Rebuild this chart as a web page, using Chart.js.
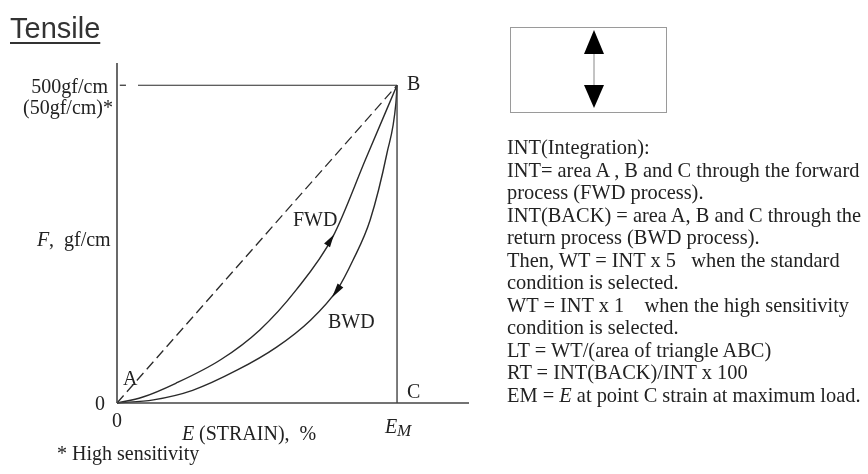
<!DOCTYPE html>
<html>
<head>
<meta charset="utf-8">
<script src="https://cdn.jsdelivr.net/npm/chart.js@4.4.1/dist/chart.umd.min.js"></script>
<style>
  body { margin: 0; background: #fff; width: 868px; height: 474px; overflow: hidden; position: relative; }
  #chart { position: absolute; left: 0; top: 0; }
  #notes {
    position: absolute; left: 507px; top: 136px;
    font-family: 'Liberation Serif', serif; font-size: 20.4px; line-height: 22.5px;
    color: #222; white-space: pre;
  }
</style>
</head>
<body>
<canvas id="chart" width="868" height="474"></canvas>
<div id="notes">INT(Integration):
INT= area A , B and C through the forward
process (FWD process).
INT(BACK) = area A, B and C through the
return process (BWD process).
Then, WT = INT x 5   when the standard
condition is selected.
WT = INT x 1    when the high sensitivity
condition is selected.
LT = WT/(area of triangle ABC)
RT = INT(BACK)/INT x 100
EM = <i>E</i> at point C strain at maximum load.</div>
<script>
// strain (% of EM = 100) vs force (gf/cm, full scale 500)
const xMax = 125.7;
const yMax = 535;
const fMax = 500;
const eM = 100;

// forward (loading) curve A -> B
const fwdStrain = [0, 9, 21, 37, 51, 64, 77, 89, 100];
const fwdForce  = [0, 9, 31, 68, 115, 178, 261, 386, 500];

// backward (return) curve B -> A, stored in ascending strain
const bwdStrain = [0, 13, 27, 43, 57, 69, 78.6, 84.3, 90.4, 96.4, 99.6, 100];
const bwdForce  = [0, 5, 20, 52, 88, 130, 178, 225, 288, 393, 472, 500];

// arrowheads on the curves: [tail, tip]
const fwdArrow = [[75, 248], [77.5, 265]];
const bwdArrow = [[79.8, 185], [76.8, 166]];

const pts = (xs, ys) => xs.map((x, i) => ({ x: x, y: ys[i] }));
const ink = '#2a2a2a';

function lineSet(data, extra) {
  return Object.assign({
    data: data, borderColor: ink, borderWidth: 1.4, pointRadius: 0,
    showLine: true, fill: false, clip: false, tension: 0
  }, extra || {});
}

const annotations = {
  id: 'annotations',
  afterDatasetsDraw(chart) {
    const ctx = chart.ctx;
    const xs = chart.scales.x, ys = chart.scales.y;
    const px = v => xs.getPixelForValue(v);
    const py = v => ys.getPixelForValue(v);

    // arrowheads
    [fwdArrow, bwdArrow].forEach(a => {
      const x0 = px(a[0][0]), y0 = py(a[0][1]);
      const x1 = px(a[1][0]), y1 = py(a[1][1]);
      const ang = Math.atan2(y1 - y0, x1 - x0);
      const len = Math.hypot(x1 - x0, y1 - y0), w = 3.5;
      ctx.save();
      ctx.translate(x1, y1);
      ctx.rotate(ang);
      ctx.beginPath();
      ctx.moveTo(0, 0);
      ctx.lineTo(-len, -w);
      ctx.lineTo(-len, w);
      ctx.closePath();
      ctx.fillStyle = '#111';
      ctx.fill();
      ctx.restore();
    });

    ctx.save();
    ctx.fillStyle = '#222';
    ctx.textBaseline = 'alphabetic';
    const serif = (s, it) => (it ? 'italic ' : '') + s + "px 'Liberation Serif', serif";

    ctx.font = serif(20);
    ctx.textAlign = 'right';
    ctx.fillText('500gf/cm', px(0) - 9, py(fMax) + 8);
    ctx.fillText('(50gf/cm)*', px(0) - 4, py(fMax) + 29);
    ctx.fillText('0', px(0) - 12, py(0) + 7);

    ctx.textAlign = 'left';
    ctx.font = serif(20, true);
    ctx.fillText('F', 37, 246);
    ctx.font = serif(20);
    ctx.fillText(',  gf/cm', 49, 246);

    ctx.fillText('B', px(eM) + 10, py(fMax) + 5);
    ctx.fillText('C', px(eM) + 10, py(0) - 5);
    ctx.fillText('A', px(0) + 6, py(0) - 18);
    ctx.fillText('FWD', 293, 226);
    ctx.fillText('BWD', 328, 328);

    ctx.textAlign = 'center';
    ctx.fillText('0', px(0), py(0) + 24);

    ctx.textAlign = 'left';
    ctx.font = serif(20, true);
    ctx.fillText('E', 182, 440);
    ctx.font = serif(20);
    ctx.fillText(' (STRAIN),  %', 194, 440);
    ctx.font = serif(20, true);
    ctx.fillText('E', px(eM) - 12, 433);
    ctx.font = serif(17, true);
    ctx.fillText('M', px(eM), 436);
    ctx.font = serif(20);
    ctx.fillText('* High sensitivity', 57, 460);

    // title
    ctx.font = "29px 'Liberation Sans', Arial, sans-serif";
    ctx.fillStyle = '#333';
    ctx.fillText('Tensile', 10, 38);
    ctx.fillRect(10, 42, ctx.measureText('Tensile').width, 2);

    // small direction box
    ctx.strokeStyle = '#9a9a9a';
    ctx.lineWidth = 1;
    ctx.strokeRect(510.5, 27.5, 156, 85);
    ctx.strokeStyle = '#888';
    ctx.beginPath();
    ctx.moveTo(594, 52); ctx.lineTo(594, 87);
    ctx.stroke();
    ctx.fillStyle = '#000';
    ctx.beginPath();
    ctx.moveTo(594, 30); ctx.lineTo(604, 54); ctx.lineTo(584, 54); ctx.closePath();
    ctx.fill();
    ctx.beginPath();
    ctx.moveTo(594, 108); ctx.lineTo(604, 85); ctx.lineTo(584, 85); ctx.closePath();
    ctx.fill();
    ctx.restore();
  }
};

new Chart(document.getElementById('chart'), {
  type: 'scatter',
  data: {
    datasets: [
      lineSet([{ x: 0, y: 0 }, { x: 0, y: yMax }], { borderColor: '#444', borderWidth: 1.6 }),
      lineSet([{ x: 0, y: 0 }, { x: xMax, y: 0 }], { borderColor: '#444', borderWidth: 1.6 }),
      lineSet([{ x: eM, y: 0 }, { x: eM, y: fMax }], { borderColor: '#444', borderWidth: 1.4 }),
      lineSet([{ x: 1, y: fMax }, { x: 3.2, y: fMax }], { borderWidth: 1.2 }),
      lineSet([{ x: 7.5, y: fMax }, { x: eM, y: fMax }], { borderWidth: 1.2 }),
      lineSet([{ x: 0, y: 0 }, { x: eM, y: fMax }], { borderDash: [10, 5], borderWidth: 1.3 }),
      lineSet(pts(fwdStrain, fwdForce), { cubicInterpolationMode: 'monotone' }),
      lineSet(pts(bwdStrain, bwdForce), { cubicInterpolationMode: 'monotone' })
    ]
  },
  options: {
    responsive: false,
    animation: false,
    events: [],
    layout: { padding: { left: 117, right: 868 - 469, top: 63, bottom: 474 - 403 } },
    scales: {
      x: { type: 'linear', min: 0, max: xMax, display: false },
      y: { type: 'linear', min: 0, max: yMax, display: false }
    },
    plugins: { legend: { display: false }, tooltip: { enabled: false } }
  },
  plugins: [annotations]
});
</script>
</body>
</html>
